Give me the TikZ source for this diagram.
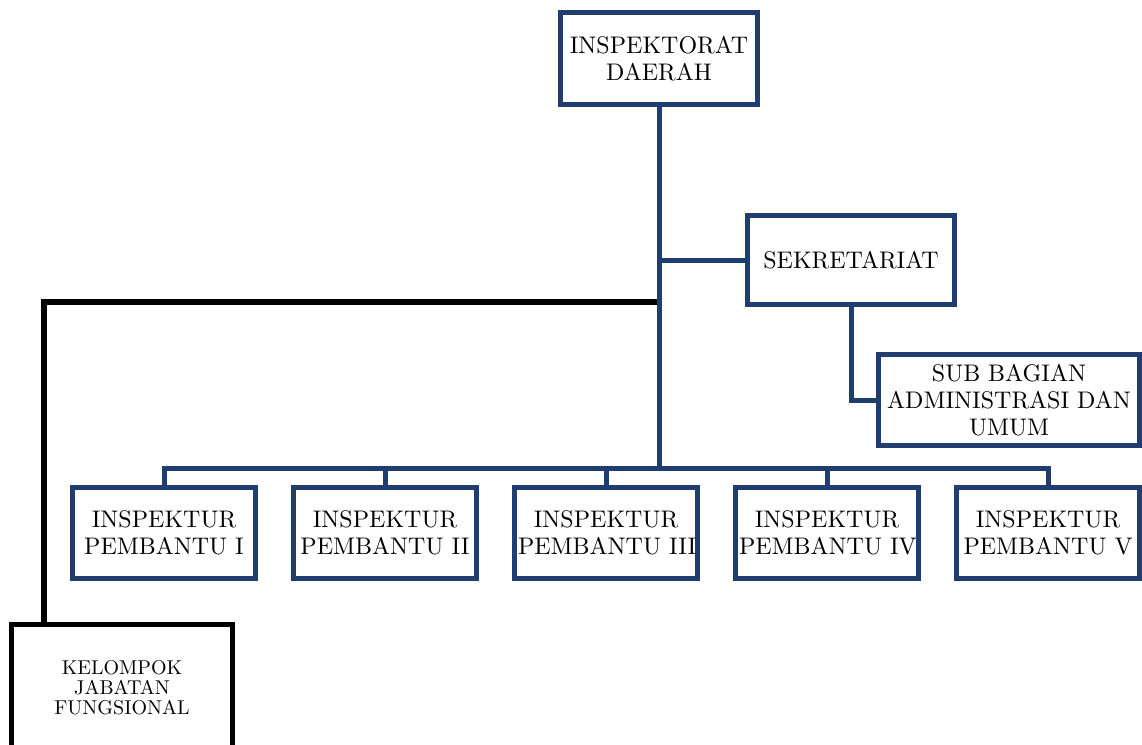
\documentclass[tikz,border=0pt]{standalone}
\usepackage{fontspec}
\setmainfont{lmroman10-regular}[Extension=.otf]
\usetikzlibrary{positioning}
\definecolor{orgblue}{RGB}{31,61,110}

\begin{document}
\begin{tikzpicture}[x=1pt, y=-1pt,
  unit/.style={draw=orgblue, line width=5pt, fill=white, align=center, inner sep=2pt,
    font=\fontsize{24}{27}\selectfont, minimum height=91pt},
  link/.style={orgblue, line width=5pt},
  fungsi/.style={draw=black, line width=5.5pt, fill=white, align=center,
    font=\fontsize{20}{20}\selectfont, minimum width=221pt, minimum height=126pt}]

\clip (0,0) rectangle (1142,744);

\node[unit, minimum width=197pt, minimum height=92pt] (ird) at (659,58.5) {INSPEKTORAT\\DAERAH};
\node[unit, minimum width=207pt, minimum height=89.5pt] (sek) at (851,260) {SEKRETARIAT};
\node[unit, minimum width=261pt] (sub) at (1009,400) {SUB BAGIAN\\ADMINISTRASI DAN\\UMUM};
\foreach \r [count=\i] in {I,II,III,IV,V}
  \node[unit, minimum width=183pt, text width=176pt] (ip\i) at ({164+221*(\i-1)},533) {INSPEKTUR\\PEMBANTU~\r};
\node[fungsi] (kjf) at (122,687.5) {KELOMPOK\\JABATAN\\FUNGSIONAL};

\coordinate (bus) at (659,468);
\coordinate (jf) at (661,301.5);

\draw[black, line width=6pt] (jf) -| ([xshift=35.5pt]kjf.north west);
\draw[link] (ird.south) -- (bus);
\draw[link] (ird.south |- sek.west) -- (sek.west);
\draw[link] (sek.south) |- (sub.west);
\draw[link] (ip1.north) |- (ip5.north |- bus) -- (ip5.north);
\foreach \i in {2,3,4}
  \draw[link] (ip\i.north) -- (ip\i.north |- bus);

\end{tikzpicture}
\end{document}
